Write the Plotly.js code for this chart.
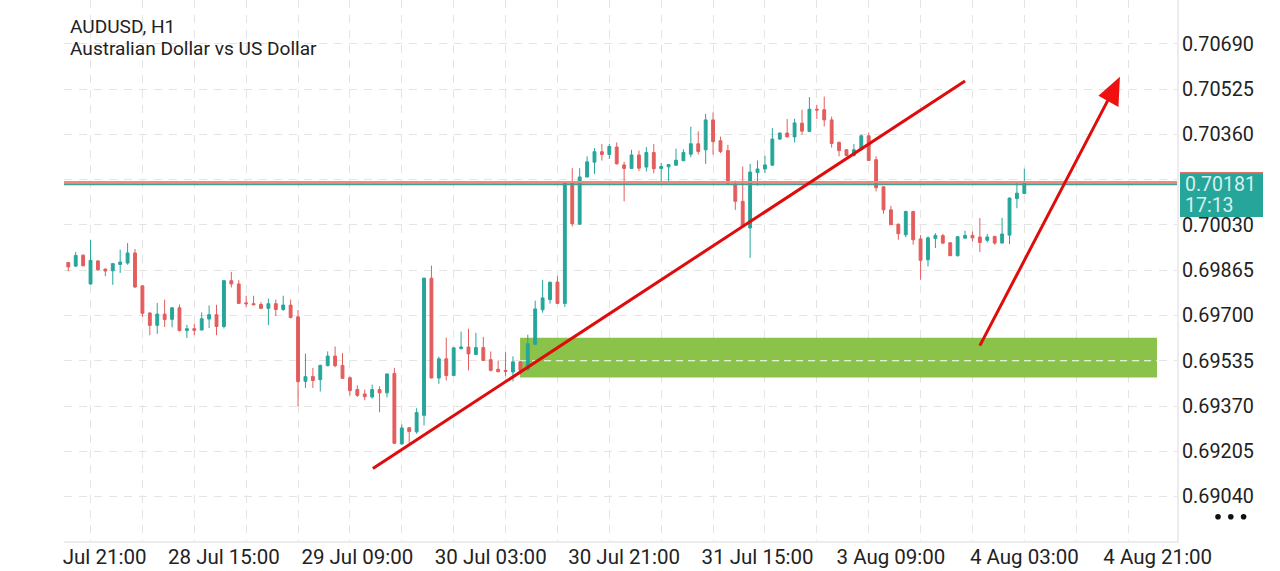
<!DOCTYPE html>
<html>
<head>
<meta charset="utf-8">
<script src="https://cdn.plot.ly/plotly-3.0.1.min.js"></script>
<style>
  html, body { margin: 0; padding: 0; background: #fff; }
  #chart { width: 1280px; height: 571px; }
</style>
</head>
<body>
<div id="chart"></div>
<script>
const opens = [0.69893,0.69880,0.69920,0.69815,0.69899,0.69869,0.69863,0.69886,0.69891,0.69928,
  0.69808,0.69709,0.69664,0.69705,0.69686,0.69728,0.69645,0.69652,0.69647,0.69687,
  0.69703,0.69660,0.69827,0.69815,0.69746,0.69743,0.69740,0.69726,0.69743,0.69722,
  0.69738,0.69695,0.69460,0.69478,0.69466,0.69517,0.69552,0.69518,0.69473,0.69430,
  0.69414,0.69403,0.69430,0.69418,0.69489,0.69232,0.69291,0.69276,0.69336,0.69836,
  0.69472,0.69542,0.69481,0.69580,0.69585,0.69558,0.69583,0.69539,0.69504,0.69500,
  0.69494,0.69531,0.69503,0.69595,0.69721,0.69758,0.69822,0.69744,0.70183,0.70033,
  0.70205,0.70259,0.70297,0.70287,0.70314,0.70249,0.70236,0.70285,0.70241,0.70294,
  0.70236,0.70242,0.70248,0.70264,0.70288,0.70326,0.70304,0.70413,0.70337,0.70301,
  0.70179,0.70116,0.70019,0.70221,0.70234,0.70248,0.70343,0.70365,0.70351,0.70401,
  0.70371,0.70452,0.70450,0.70413,0.70331,0.70304,0.70283,0.70304,0.70355,0.70268,
  0.70169,0.70085,0.70033,0.69994,0.70079,0.69979,0.69903,0.69981,0.69991,0.69965,
  0.69918,0.69982,0.69992,0.69986,0.69974,0.69988,0.69964,0.69993,0.70126,0.70145];
const highs = [0.69893,0.69931,0.69922,0.69976,0.69901,0.69872,0.69891,0.69940,0.69964,0.69942,
  0.69809,0.69713,0.69746,0.69758,0.69731,0.69740,0.69666,0.69670,0.69711,0.69737,
  0.69739,0.69828,0.69859,0.69829,0.69772,0.69772,0.69749,0.69761,0.69758,0.69772,
  0.69758,0.69720,0.69561,0.69509,0.69521,0.69569,0.69587,0.69563,0.69478,0.69445,
  0.69430,0.69448,0.69442,0.69488,0.69509,0.69303,0.69292,0.69362,0.69838,0.69882,
  0.69550,0.69619,0.69583,0.69641,0.69652,0.69637,0.69622,0.69569,0.69536,0.69566,
  0.69551,0.69533,0.69630,0.69754,0.69830,0.69824,0.69843,0.70184,0.70237,0.70237,
  0.70280,0.70310,0.70325,0.70325,0.70331,0.70260,0.70304,0.70301,0.70314,0.70325,
  0.70256,0.70252,0.70308,0.70306,0.70388,0.70371,0.70435,0.70440,0.70352,0.70322,
  0.70192,0.70243,0.70253,0.70265,0.70282,0.70383,0.70367,0.70416,0.70417,0.70450,
  0.70496,0.70468,0.70498,0.70425,0.70334,0.70306,0.70325,0.70359,0.70367,0.70280,
  0.70170,0.70100,0.70034,0.70082,0.70082,0.69993,0.69988,0.70000,0.69997,0.69968,
  0.69990,0.70009,0.70006,0.70055,0.69997,0.69991,0.70056,0.70130,0.70184,0.70235];
const lows = [0.69861,0.69877,0.69880,0.69812,0.69863,0.69843,0.69812,0.69855,0.69885,0.69800,
  0.69695,0.69628,0.69633,0.69658,0.69657,0.69642,0.69618,0.69628,0.69646,0.69654,
  0.69628,0.69653,0.69802,0.69743,0.69731,0.69738,0.69723,0.69665,0.69698,0.69717,
  0.69689,0.69369,0.69436,0.69436,0.69423,0.69515,0.69511,0.69470,0.69408,0.69403,
  0.69391,0.69397,0.69347,0.69401,0.69233,0.69229,0.69236,0.69269,0.69299,0.69471,
  0.69451,0.69463,0.69480,0.69575,0.69500,0.69556,0.69535,0.69496,0.69493,0.69478,
  0.69460,0.69484,0.69500,0.69594,0.69710,0.69743,0.69743,0.69731,0.70025,0.70030,
  0.70203,0.70216,0.70265,0.70271,0.70250,0.70116,0.70234,0.70226,0.70225,0.70218,
  0.70189,0.70189,0.70246,0.70263,0.70277,0.70287,0.70253,0.70286,0.70292,0.70180,
  0.70085,0.70024,0.69910,0.70173,0.70219,0.70246,0.70340,0.70350,0.70331,0.70359,
  0.70369,0.70416,0.70389,0.70312,0.70280,0.70280,0.70280,0.70301,0.70264,0.70152,
  0.70071,0.70030,0.69976,0.69985,0.69958,0.69830,0.69879,0.69946,0.69960,0.69917,
  0.69915,0.69980,0.69970,0.69931,0.69966,0.69958,0.69963,0.69960,0.70091,0.70142];
const closes = [0.69877,0.69919,0.69881,0.69901,0.69867,0.69862,0.69889,0.69895,0.69928,0.69804,
  0.69708,0.69664,0.69705,0.69685,0.69728,0.69645,0.69652,0.69646,0.69688,0.69703,
  0.69660,0.69827,0.69815,0.69744,0.69743,0.69739,0.69726,0.69743,0.69722,0.69738,
  0.69693,0.69459,0.69477,0.69463,0.69518,0.69552,0.69517,0.69471,0.69426,0.69409,
  0.69404,0.69430,0.69418,0.69487,0.69234,0.69290,0.69277,0.69346,0.69836,0.69472,
  0.69542,0.69481,0.69582,0.69585,0.69560,0.69583,0.69536,0.69500,0.69495,0.69496,
  0.69531,0.69500,0.69597,0.69724,0.69764,0.69821,0.69744,0.70183,0.70034,0.70205,
  0.70260,0.70297,0.70287,0.70316,0.70253,0.70236,0.70285,0.70237,0.70294,0.70235,
  0.70243,0.70250,0.70266,0.70294,0.70326,0.70298,0.70413,0.70334,0.70298,0.70183,
  0.70116,0.70025,0.70223,0.70234,0.70249,0.70343,0.70365,0.70351,0.70402,0.70372,
  0.70452,0.70449,0.70413,0.70327,0.70301,0.70283,0.70304,0.70355,0.70265,0.70166,
  0.70085,0.70031,0.69998,0.70079,0.69976,0.69901,0.69983,0.69992,0.69964,0.69918,
  0.69987,0.69992,0.69983,0.69966,0.69986,0.69964,0.69997,0.70128,0.70146,0.70181];

const priceTicks = [0.70690,0.70525,0.70360,0.70195,0.70030,0.69865,0.69700,0.69535,0.69370,0.69205,0.69040];
// 0.70195 sits behind the price box, so its label stays empty
const priceTickLabels = ["0.70690","0.70525","0.70360","","0.70030","0.69865","0.69700","0.69535","0.69370","0.69205","0.69040"];
const timeTicks = [4.9,21,39,57,75,93,111,129,147];
const timeTickLabels = ["Jul 21:00","28 Jul 15:00","29 Jul 09:00","30 Jul 03:00","30 Jul 21:00","31 Jul 15:00","3 Aug 09:00","4 Aug 03:00","4 Aug 21:00"];

const BID = 0.70178;
const ASK = 0.70187;
const trendX = [41.1, 121.0];
const trendY = [0.69142, 0.70555];
const zoneX = [60.96, 146.9];
const zoneY = [0.69474, 0.69619];
const zoneMid = 0.69535;
const arrowX = [123.0, 140.3];
const arrowY = [0.69590, 0.70486];
const headX = [141.9, 139.0, 141.7];
const headY = [0.70570, 0.70501, 0.70460];

const WIDTH = 1280;
const HEIGHT = 571;
const M = { l: 64, r: 103, t: 0, b: 30 };
const GREEN = "#26a69a";
const RED = "#e35d5d";
const GRID = "#e4e4e4";
const FONT = "Roboto, sans-serif";

// page pixel -> paper fraction, for the items that live outside the plot
const paperX = (px) => (px - M.l) / (WIDTH - M.l - M.r);
const paperY = (py) => 1 - (py - M.t) / (HEIGHT - M.t - M.b);

const candles = {
  type: "candlestick",
  x: opens.map((_, i) => i),
  open: opens,
  high: highs,
  low: lows,
  close: closes,
  whiskerwidth: 0,
  increasing: { line: { color: GREEN, width: 1 }, fillcolor: GREEN },
  decreasing: { line: { color: RED, width: 1 }, fillcolor: RED },
  hoverinfo: "skip"
};

const dot = (px) => ({
  type: "circle", xref: "paper", yref: "paper",
  x0: paperX(px - 2.8), x1: paperX(px + 2.8),
  y0: paperY(516.7 + 2.8), y1: paperY(516.7 - 2.8),
  fillcolor: "#111", line: { width: 0 }
});

const shapes = [
  { type: "rect", layer: "between", x0: zoneX[0], x1: zoneX[1], y0: zoneY[0], y1: zoneY[1],
    fillcolor: "#8bc34a", line: { width: 0 } },
  { type: "line", layer: "between", x0: zoneX[0], x1: zoneX[1], y0: zoneMid, y1: zoneMid,
    line: { color: "#ffffff", width: 1.2, dash: "7px,5px" } },
  { type: "line", xref: "paper", x0: 0, x1: 1, y0: ASK, y1: ASK, line: { color: "#f0897a", width: 2 } },
  { type: "line", xref: "paper", x0: 0, x1: 1, y0: BID, y1: BID, line: { color: "#3f9f97", width: 2 } },
  { type: "line", x0: trendX[0], x1: trendX[1], y0: trendY[0], y1: trendY[1],
    line: { color: "#df0c0c", width: 3 } },
  { type: "line", x0: arrowX[0], x1: arrowX[1], y0: arrowY[0], y1: arrowY[1],
    line: { color: "#df0c0c", width: 3 } },
  { type: "path",
    path: `M ${headX[0]} ${headY[0]} L ${headX[1]} ${headY[1]} L ${headX[2]} ${headY[2]} Z`,
    fillcolor: "#f01010", line: { width: 0 } },
  // price box on the axis
  { type: "rect", xref: "paper", yref: "paper",
    x0: paperX(1180), x1: paperX(1263), y0: paperY(217), y1: paperY(172),
    fillcolor: "#26a69a", line: { width: 0 } },
  { type: "rect", xref: "paper", yref: "paper",
    x0: paperX(1180), x1: paperX(1263), y0: paperY(173.5), y1: paperY(172),
    fillcolor: "#e0705f", line: { width: 0 } },
  dot(1218), dot(1230.8), dot(1243.6)
];

const label = (text, px, py, color, size) => ({
  text, xref: "paper", yref: "paper", x: paperX(px), y: paperY(py),
  xanchor: "left", yanchor: "middle", showarrow: false,
  font: { family: FONT, size, color }
});

const annotations = [
  label("AUDUSD, H1", 68, 27, "#222", 19.1),
  label("Australian Dollar vs US Dollar", 68, 48, "#222", 19.1),
  label("0.70181", 1183, 184, "#d7f0ed", 19.5),
  label("17:13", 1183, 206, "#d7f0ed", 19.5)
];

const layout = {
  width: WIDTH,
  height: HEIGHT,
  margin: M,
  paper_bgcolor: "#fff",
  plot_bgcolor: "#fff",
  showlegend: false,
  boxgap: 0.45,
  font: { family: FONT, color: "#222" },
  xaxis: {
    type: "linear",
    range: [-0.58, 149.6],
    rangeslider: { visible: false },
    tickmode: "array",
    tickvals: timeTicks,
    ticktext: timeTickLabels,
    tickfont: { family: FONT, size: 20.5, color: "#222" },
    ticks: "",
    ticklabelstandoff: -4,
    showgrid: false,
    zeroline: false,
    showline: true,
    linecolor: "#ececec",
    linewidth: 2,
    minor: { tick0: 3, dtick: 7, showgrid: true, gridcolor: GRID, griddash: "8px,7px", gridwidth: 1, ticks: "" }
  },
  yaxis: {
    side: "right",
    range: [0.68878, 0.70850],
    tickmode: "array",
    tickvals: priceTicks,
    ticktext: priceTickLabels,
    tickfont: { family: FONT, size: 19.8, color: "#222" },
    ticks: "",
    ticklabelstandoff: -1,
    showgrid: true,
    gridcolor: GRID,
    griddash: "8px,7px",
    zeroline: false,
    showline: true,
    linecolor: "#ececec",
    linewidth: 2
  },
  shapes,
  annotations
};

Plotly.newPlot("chart", [candles], layout, { displayModeBar: false, staticPlot: true });
</script>
</body>
</html>
